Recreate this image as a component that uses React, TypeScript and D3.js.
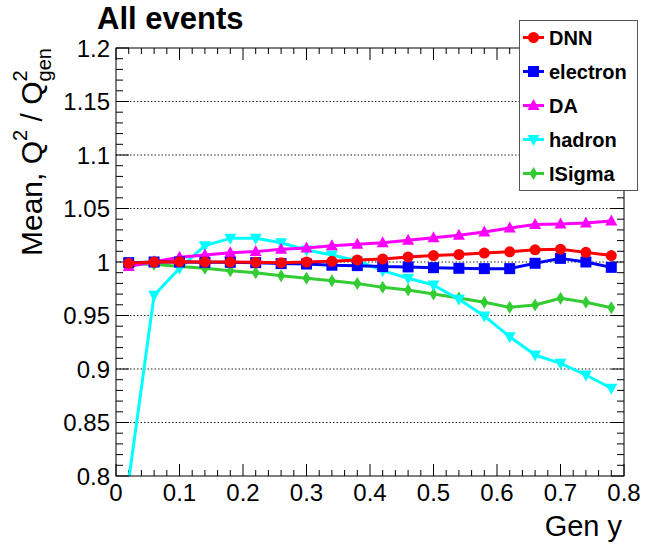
import * as d3 from 'd3'

const yGen = [0.02, 0.06, 0.1, 0.14, 0.18, 0.22, 0.26, 0.3, 0.34, 0.38, 0.42, 0.46, 0.5, 0.54, 0.58, 0.62, 0.66, 0.7, 0.74, 0.78]

const dnn = [0.9988, 1.0, 1.0003, 1.0, 1.0, 0.9997, 0.9994, 1.0, 1.0006, 1.0019, 1.0028, 1.0047, 1.006, 1.007, 1.0083, 1.0095, 1.0114, 1.012, 1.009, 1.006]
const electron = [0.9994, 1.0, 1.0, 0.9997, 0.9997, 0.9994, 0.9985, 0.9981, 0.997, 0.9966, 0.9957, 0.9954, 0.9947, 0.9941, 0.9938, 0.9938, 0.9988, 1.0034, 1.0, 0.995]
const da = [0.9957, 1.0003, 1.0045, 1.0065, 1.0087, 1.0097, 1.012, 1.0131, 1.0152, 1.0165, 1.018, 1.0203, 1.0227, 1.025, 1.028, 1.0318, 1.035, 1.0355, 1.0365, 1.0383]
const hadron = [0.796, 0.969, 0.9941, 1.0153, 1.0221, 1.0221, 1.018, 1.0112, 1.0065, 1.0012, 0.9919, 0.9848, 0.9785, 0.9651, 0.9495, 0.9302, 0.9131, 0.9053, 0.8944, 0.882]
const iSigma = [0.998, 0.998, 0.9957, 0.9941, 0.9919, 0.99, 0.9872, 0.9848, 0.9825, 0.98, 0.9763, 0.9738, 0.97, 0.9664, 0.9623, 0.9576, 0.9598, 0.9661, 0.9623, 0.9573]

const xTickLabels = ['0', '0.1', '0.2', '0.3', '0.4', '0.5', '0.6', '0.7', '0.8']
const yTickLabels = ['0.8', '0.85', '0.9', '0.95', '1', '1.05', '1.1', '1.15', '1.2']

type Marker = 'circle' | 'square' | 'tri-up' | 'tri-down' | 'diamond'
const series: { name: string; values: number[]; color: string; marker: Marker }[] = [
  { name: 'DNN', values: dnn, color: '#ff0000', marker: 'circle' },
  { name: 'electron', values: electron, color: '#0000ff', marker: 'square' },
  { name: 'DA', values: da, color: '#ff00ff', marker: 'tri-up' },
  { name: 'hadron', values: hadron, color: '#00ffff', marker: 'tri-down' },
  { name: 'ISigma', values: iSigma, color: '#33cc33', marker: 'diamond' },
]
// drawing order (last on top)
const drawOrder = ['ISigma', 'hadron', 'DA', 'electron', 'DNN']

const W = 648
const H = 546
const frame = { left: 116, right: 624, top: 48, bottom: 476 }
const font = 'Liberation Sans, Arial, Helvetica, sans-serif'

function markerShape(m: Marker, cx: number, cy: number, color: string, key?: string) {
  switch (m) {
    case 'circle':
      return <circle key={key} cx={cx} cy={cy} r={5.5} fill={color} />
    case 'square':
      return <rect key={key} x={cx - 5.5} y={cy - 5.5} width={11} height={11} fill={color} />
    case 'tri-up':
      return <path key={key} d={`M${cx},${cy - 6.5}L${cx + 6},${cy + 4.5}L${cx - 6},${cy + 4.5}Z`} fill={color} />
    case 'tri-down':
      return <path key={key} d={`M${cx},${cy + 6.5}L${cx + 6},${cy - 4.5}L${cx - 6},${cy - 4.5}Z`} fill={color} />
    case 'diamond':
      return <path key={key} d={`M${cx},${cy - 6.5}L${cx + 4},${cy}L${cx},${cy + 6.5}L${cx - 4},${cy}Z`} fill={color} />
  }
}

export default function App() {
  const x = d3.scaleLinear().domain([0, 0.8]).range([frame.left, frame.right])
  const y = d3.scaleLinear().domain([0.8, 1.2]).range([frame.bottom, frame.top])

  const line = d3.line<number>()
    .x((_, i) => x(yGen[i]))
    .y((d) => y(d))

  const xMinor = d3.range(0, 41).map((i) => i * 0.02)
  const yMinor = d3.range(0, 41).map((i) => 0.8 + i * 0.01)
  const gridVals = d3.range(1, 8).map((i) => 0.8 + i * 0.05)

  const ordered = drawOrder.map((n) => series.find((s) => s.name === n)!)

  return (
    <svg width={W} height={H} style={{ position: 'absolute', left: 0, top: 0, background: '#fff' }} fontFamily={font}>
      <defs>
        <clipPath id="plotClip">
          <rect x={frame.left} y={frame.top} width={frame.right - frame.left} height={frame.bottom - frame.top} />
        </clipPath>
      </defs>
      <rect x={0} y={0} width={W} height={H} fill="#fff" />

      {/* grid */}
      {gridVals.map((v) => (
        <line key={v} x1={frame.left} x2={frame.right} y1={y(v)} y2={y(v)} stroke="#222" strokeWidth={1} strokeDasharray="1.5,2" />
      ))}

      {/* ticks */}
      {xMinor.map((v, i) => {
        const len = i % 5 === 0 ? 12 : 6
        return (
          <g key={'xt' + i} stroke="#000" strokeWidth={1}>
            <line x1={x(v)} x2={x(v)} y1={frame.bottom} y2={frame.bottom - len} />
            <line x1={x(v)} x2={x(v)} y1={frame.top} y2={frame.top + len} />
          </g>
        )
      })}
      {yMinor.map((v, i) => {
        const len = i % 5 === 0 ? 13 : 7
        return (
          <g key={'yt' + i} stroke="#000" strokeWidth={1}>
            <line x1={frame.left} x2={frame.left + len} y1={y(v)} y2={y(v)} />
            <line x1={frame.right} x2={frame.right - len} y1={y(v)} y2={y(v)} />
          </g>
        )
      })}

      {/* series */}
      <g clipPath="url(#plotClip)">
        {ordered.map((s) => (
          <g key={s.name}>
            <path d={line(s.values) || ''} fill="none" stroke={s.color} strokeWidth={3} strokeLinejoin="round" />
            {s.values.map((v, i) =>
              v >= 0.8 && v <= 1.2 ? markerShape(s.marker, x(yGen[i]), y(v), s.color, s.name + i) : null
            )}
          </g>
        ))}
      </g>

      {/* frame */}
      <rect x={frame.left} y={frame.top} width={frame.right - frame.left} height={frame.bottom - frame.top} fill="none" stroke="#000" strokeWidth={1} />

      {/* tick labels */}
      {xTickLabels.map((t) => (
        <text key={'xl' + t} x={x(+t)} y={501} textAnchor="middle" fontSize={24} fill="#000">{t}</text>
      ))}
      {yTickLabels.map((t) => (
        <text key={'yl' + t} x={110} y={y(+t)} dy="0.36em" textAnchor="end" fontSize={24} fill="#000">{t}</text>
      ))}

      {/* axis titles */}
      <text x={622} y={536} textAnchor="end" fontSize={29} fill="#000">Gen y</text>
      <text transform={`translate(42,${frame.top}) rotate(-90)`} textAnchor="end" fontSize={30} fill="#000">
        Mean, Q<tspan fontSize={20} dy={-15}>2</tspan>
        <tspan dy={15}> / Q</tspan>
        <tspan fontSize={20} dy={-15}>2</tspan>
        <tspan fontSize={20} dx={-11} dy={24}>gen</tspan>
      </text>

      {/* title */}
      <text x={97} y={29} fontSize={31} fontWeight="bold" fill="#000">All events</text>

      {/* legend */}
      <rect x={519.5} y={20.5} width={118} height={170} fill="#fff" stroke="#555" strokeWidth={1} />
      {series.map((s, i) => {
        const ly = 37.5 + i * 34
        return (
          <g key={'lg' + s.name}>
            <line x1={523} x2={544} y1={ly} y2={ly} stroke={s.color} strokeWidth={3} />
            {markerShape(s.marker, 533.5, ly, s.color)}
            <text x={549} y={ly} dy="0.36em" fontSize={20} fontWeight="bold" fill="#000">{s.name}</text>
          </g>
        )
      })}
    </svg>
  )
}
